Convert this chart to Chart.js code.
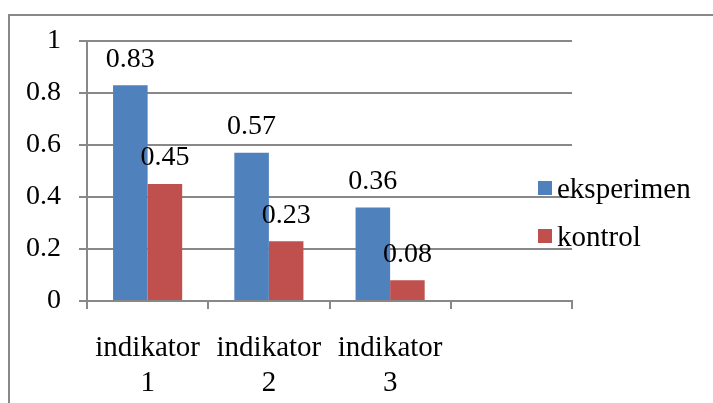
<!DOCTYPE html>
<html>
<head>
<meta charset="utf-8">
<script src="https://cdn.jsdelivr.net/npm/chart.js@4"></script>
<style>
  html, body { margin: 0; padding: 0; background: #fff; overflow: hidden; }
  #wrap { position: relative; width: 713px; height: 403px; }
  #frame { position: absolute; left: 8px; top: 14px; width: 800px; height: 500px; border: 2px solid #888; }
  canvas { position: absolute; left: 0; top: 0; }
</style>
</head>
<body>
<div id="wrap">
  <div id="frame"></div>
  <canvas id="myChart" width="713" height="403"></canvas>
</div>
<script>
// data
const categorias = [['indikator', '1'], ['indikator', '2'], ['indikator', '3'], ''];
const eksperimen = [0.83, 0.57, 0.36, null];
const kontrol = [0.45, 0.23, 0.08, null];
const ticksY = [0, 0.2, 0.4, 0.6, 0.8, 1];

const fuente = 'Liberation Serif, Times New Roman, serif';
const gris = '#888888';

// etiquetas encima de cada barra
const etiquetas = {
  id: 'etiquetas',
  afterDatasetsDraw(chart) {
    const ctx = chart.ctx;
    ctx.save();
    ctx.font = '28px ' + fuente;
    ctx.fillStyle = '#000';
    ctx.textAlign = 'center';
    ctx.textBaseline = 'middle';
    chart.data.datasets.forEach((ds, i) => {
      chart.getDatasetMeta(i).data.forEach((bar, j) => {
        if (ds.data[j] == null) return;
        ctx.fillText(String(ds.data[j]), bar.x, bar.y - 26);
      });
    });
    ctx.restore();
  }
};

// leyenda a la derecha (se superpone al área como en el original)
const leyenda = {
  id: 'leyenda',
  afterDraw(chart) {
    const ctx = chart.ctx;
    ctx.save();
    ctx.font = '29px ' + fuente;
    ctx.textBaseline = 'middle';
    chart.data.datasets.forEach((ds, i) => {
      const y = 188 + i * 48;
      ctx.fillStyle = ds.backgroundColor;
      ctx.fillRect(538, y - 7, 14, 14);
      ctx.fillStyle = '#000';
      ctx.fillText(ds.label, 557, y + 2);
    });
    ctx.restore();
  }
};

const ctx = document.getElementById('myChart').getContext('2d');
new Chart(ctx, {
  type: 'bar',
  data: {
    labels: categorias,
    datasets: [
      { label: 'eksperimen', data: eksperimen, backgroundColor: '#4F81BD' },
      { label: 'kontrol', data: kontrol, backgroundColor: '#C0504D' }
    ]
  },
  options: {
    responsive: false,
    animation: false,
    layout: { padding: { left: 0, top: 41, right: 141, bottom: 0 } },
    plugins: { legend: { display: false }, tooltip: { enabled: false } },
    datasets: { bar: { barPercentage: 1, categoryPercentage: 0.57 } },
    scales: {
      x: {
        grid: { drawOnChartArea: false, drawTicks: true, tickLength: 8, color: gris, lineWidth: 2 },
        border: { color: gris, width: 2 },
        ticks: { color: '#000', font: { family: fuente, size: 29, lineHeight: 1.2 }, padding: 22, maxRotation: 0 },
        afterFit(scale) { scale.height = 102; }
      },
      y: {
        min: 0,
        max: 1,
        afterBuildTicks(scale) { scale.ticks = ticksY.map(v => ({ value: v })); },
        grid: { color: gris, lineWidth: 2, tickLength: 8 },
        border: { color: gris, width: 2 },
        ticks: {
          color: '#000',
          font: { family: fuente, size: 28 },
          padding: 18,
          callback: (v) => String(v)
        },
        afterFit(scale) { scale.width = 87; }
      }
    }
  },
  plugins: [etiquetas, leyenda]
});
</script>
</body>
</html>
